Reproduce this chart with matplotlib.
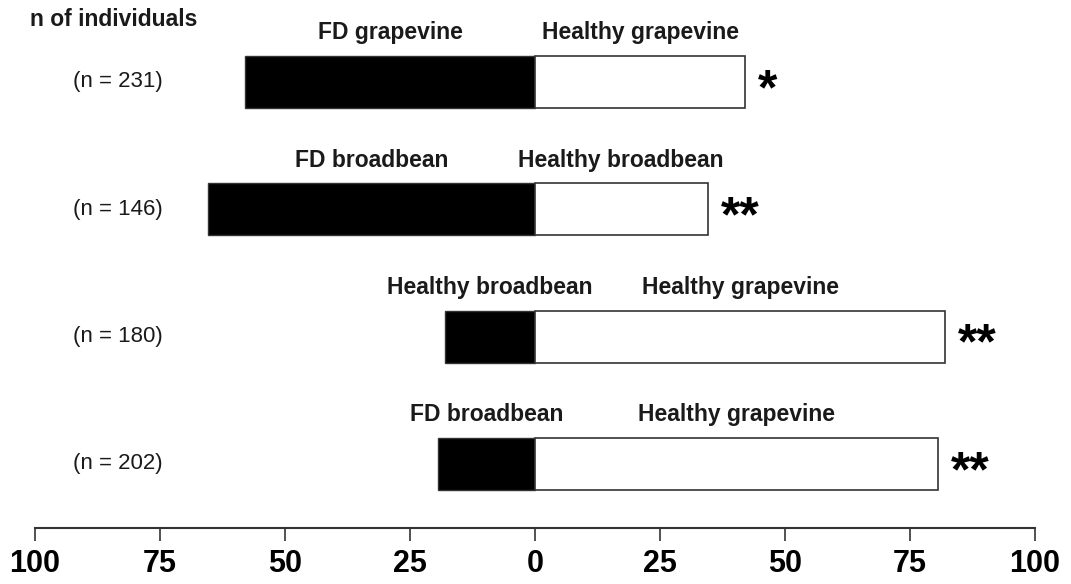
import matplotlib.pyplot as plt

# choice test: % of individuals choosing each side
left_pct = [58, 65.5, 18, 19.5]
right_pct = [42, 34.5, 82, 80.5]
left_labels = ["FD grapevine", "FD broadbean", "Healthy broadbean", "FD broadbean"]
right_labels = ["Healthy grapevine", "Healthy broadbean", "Healthy grapevine", "Healthy grapevine"]
n_labels = ["(n = 231)", "(n = 146)", "(n = 180)", "(n = 202)"]
signif = ["*", "**", "**", "**"]
ticks = [-100, -75, -50, -25, 0, 25, 50, 75, 100]
tick_labels = ["100", "75", "50", "25", "0", "25", "50", "75", "100"]

plt.rcParams["font.family"] = ["Liberation Sans", "DejaVu Sans"]

fig = plt.figure(figsize=(10.71, 5.84), dpi=100)
ax = fig.add_axes([35 / 1071, 56 / 584, 1000 / 1071, 528 / 584])

ypos = [3, 2, 1, 0]
bh = 0.41
ax.barh(ypos, [-v for v in left_pct], height=bh, color="black", edgecolor="#333333", linewidth=1)
ax.barh(ypos, right_pct, height=bh, color="white", edgecolor="#333333", linewidth=1.2)

for y, l, r, ll, rl, n, s in zip(ypos, left_pct, right_pct, left_labels, right_labels, n_labels, signif):
    ax.text(-l / 2, y + 0.385, ll, ha="center", va="center", fontsize=16.5, fontweight="bold", color="#1a1a1a")
    ax.text(r / 2, y + 0.385, rl, ha="center", va="center", fontsize=16.5, fontweight="bold", color="#1a1a1a")
    ax.text(-83.5, y, n, ha="center", va="center", fontsize=16, color="#1a1a1a")
    ax.text(r + 2.6, y - 0.07, s, ha="left", va="center", fontsize=36, fontweight="bold", color="black")

ax.text(-101, 3.49, "n of individuals", ha="left", va="center", fontsize=16.5, fontweight="bold", color="#1a1a1a")

ax.set_xlim(-100, 100)
ax.set_ylim(-0.503, 3.644)
ax.set_xticks(ticks)
ax.set_xticklabels(tick_labels, fontsize=22, fontweight="bold")
ax.set_yticks([])
for side in ["top", "right", "left"]:
    ax.spines[side].set_visible(False)
ax.spines["bottom"].set_linewidth(1.5)
ax.spines["bottom"].set_color("#333333")
ax.tick_params(axis="x", length=9, width=1.2, color="#333333", pad=6)

fig.savefig("out.png", dpi=100)
